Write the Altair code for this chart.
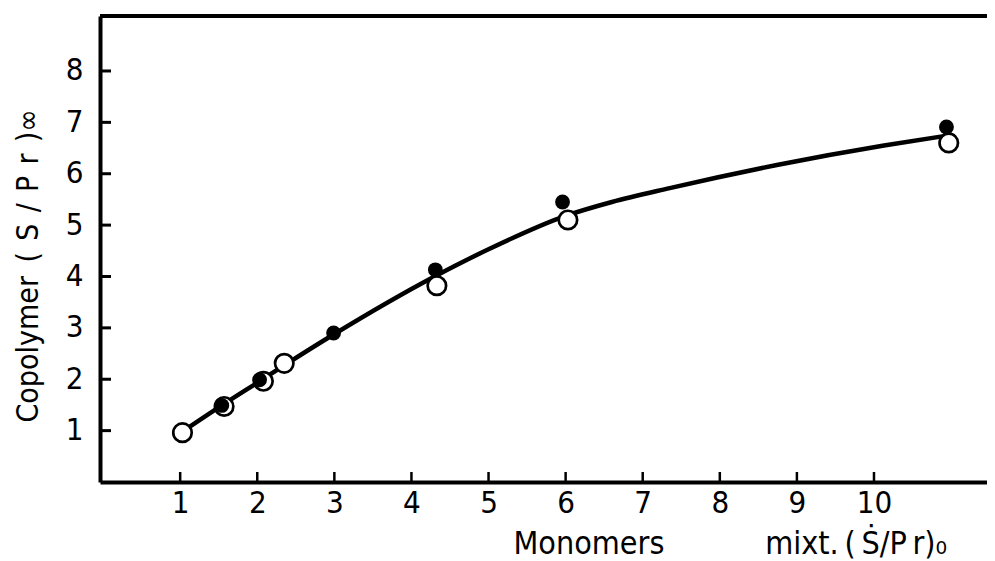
import altair as alt
import pandas as pd

# ---- data ----
open_x = [1.03, 1.57, 2.08, 2.35, 4.33, 6.03, 10.97]
open_y = [0.96, 1.47, 1.96, 2.31, 3.82, 5.10, 6.60]
filled_x = [1.54, 2.03, 2.99, 4.31, 5.96, 10.94]
filled_y = [1.49, 1.99, 2.90, 4.13, 5.45, 6.91]
curve_x = [1.0, 1.55, 2.05, 2.35, 3.0, 4.3, 5.0, 6.0, 6.6, 7.35, 8.74, 10.13, 10.9]
curve_y = [0.95, 1.50, 1.98, 2.27, 2.88, 4.00, 4.53, 5.18, 5.45, 5.72, 6.17, 6.55, 6.73]
x_ticks = [1, 2, 3, 4, 5, 6, 7, 8, 9, 10]
y_ticks = [1, 2, 3, 4, 5, 6, 7, 8]

W, H = 887, 466
FONT = "DejaVu Sans Condensed"
TS = "\u2009"          # thin space
PS = "\u2008\u200a"    # punctuation space + hair space

x_title = ("Monomers" + "\u2003" * 3 + "\u2002" + "mixt." + TS + "(" + TS + "S\u0307/"
           + "P" + TS + "r" + ")\u2080")
y_title = ("Copolymer" + "\u2002" + "(" + PS + "S" + PS + "/" + PS + "P" + PS + "r"
           + PS + ")\u221e")

df_open = pd.DataFrame({"x": open_x, "y": open_y})
df_filled = pd.DataFrame({"x": filled_x, "y": filled_y})
df_curve = pd.DataFrame({"x": curve_x, "y": curve_y})
df_xt = pd.DataFrame({"x": x_ticks})
df_yt = pd.DataFrame({"y": y_ticks})

xs = alt.Scale(domain=[-0.04, 11.466], nice=False, zero=False)
ys = alt.Scale(domain=[0, 9.07], nice=False, zero=False)

xaxis = alt.Axis(values=x_ticks, tickSize=0, labelPadding=6, labelFontSize=31,
                 labelFont=FONT, labelColor="black", domainColor="black", domainWidth=4,
                 grid=False, title=x_title, titleFont=FONT,
                 titleFontSize=32, titleFontWeight="normal", titleColor="black",
                 titleAnchor="start", titleAlign="left", titleX=413, titleY=71,
                 titleBaseline="alphabetic")
yaxis = alt.Axis(values=y_ticks, tickSize=0, labelPadding=17, labelFontSize=31,
                 labelFont=FONT, labelColor="black", domainColor="black", domainWidth=4,
                 grid=False, title=y_title, titleFont=FONT,
                 titleFontSize=30, titleFontWeight="normal", titleColor="black",
                 titleAngle=-90, titleAlign="left", titleX=-72, titleY=406,
                 titleBaseline="middle")


def X(f="x"):
    return alt.X(f"{f}:Q", scale=xs, axis=xaxis)


def Y(f="y"):
    return alt.Y(f"{f}:Q", scale=ys, axis=yaxis)


curve = alt.Chart(df_curve).mark_line(color="black", strokeWidth=4.5,
                                      interpolate="monotone").encode(x=X(), y=Y())
opens = alt.Chart(df_open).mark_point(shape="circle", filled=True, fill="white",
                                      stroke="black", strokeWidth=2.7, size=340,
                                      opacity=1).encode(x=X(), y=Y())
filled = alt.Chart(df_filled).mark_point(shape="circle", filled=True, color="black",
                                         size=220, opacity=1).encode(x=X(), y=Y())
xt = alt.Chart(df_xt).mark_rule(color="black", strokeWidth=2.5).encode(
    x=X(), y=alt.value(H), y2=alt.value(H - 10))
yt = alt.Chart(df_yt).mark_rule(color="black", strokeWidth=3).encode(
    y=Y(), x=alt.value(0), x2=alt.value(11))
top = alt.Chart(df_xt).mark_rule(color="black", strokeWidth=3.5).encode(
    x=alt.value(0), x2=alt.value(W), y=alt.value(0))

chart = alt.layer(xt, yt, top, curve, opens, filled).properties(
    width=W, height=H,
    autosize=alt.AutoSizeParams(type="none"),
    padding={"left": 92, "top": 8, "right": 0, "bottom": 79},
    background="white",
).configure_view(stroke=None)

chart.save("out.html", embed_options={"renderer": "svg", "actions": False})
